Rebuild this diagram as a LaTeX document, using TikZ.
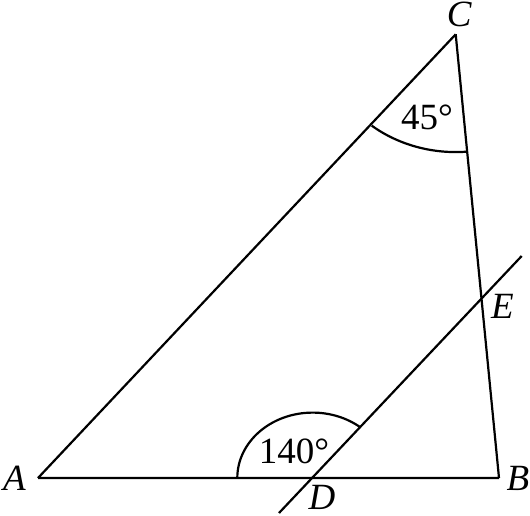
\documentclass[tikz,border=0pt]{standalone}
\usepackage{fontspec}
\setmainfont{Liberation Serif}
\usepackage{xcolor}

\begin{document}
\begin{tikzpicture}[x=0.5pt,y=0.5pt,line width=1.1pt,font=\fontsize{18.5}{21}\selectfont]
            \useasboundingbox (0,0) rectangle (530,515);
            \coordinate (A) at (38,37);
            \coordinate (B) at (499,37);
            \coordinate (C) at (455.7,480.7);
            \coordinate (D) at (312.7,37);
            \coordinate (E) at (481,215.7);
            \coordinate (p) at (279,2);
            \coordinate (q) at (521.7,259);
            
            \draw (A) -- (B) (B) -- (C) (C) -- (A);
            \draw (p) -- (q);
            
            % angle marks
            \draw (D) ++(-75.4,0) arc[start angle=180,end angle=50.7,x radius=37.7pt,y radius=32.7pt];
            \draw (C) ++(-83.9,-91.4) arc[start angle=230.9,end angle=274.7,x radius=66.55pt,y radius=58.9pt];
            
            \node (la) at (14.5,37) {\textit{A}};
            \node (lb) at (518,37) {\textit{B}};
            \node (lc) at (459.5,500.3) {\textit{C}};
            \node (ld) at (322,17.5) {\textit{D}};
            \node (le) at (502.5,209) {\textit{E}};
            \node (d140) at (294,64) {140°};
            \node (c45) at (427,397.5) {45°};
            
        \end{tikzpicture}
\end{document}
